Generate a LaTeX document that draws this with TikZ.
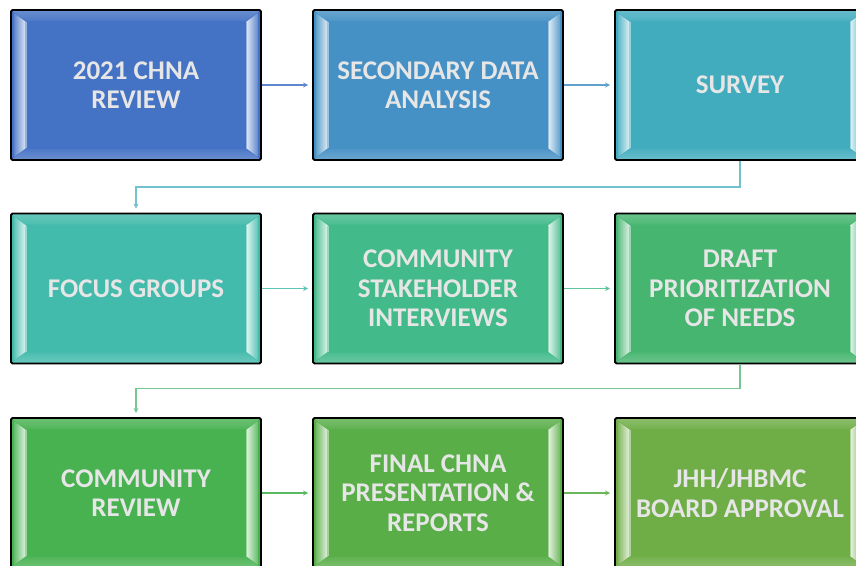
\documentclass[tikz,border=0pt]{standalone}
\usepackage{fontspec}
\newfontfamily\stagefont{Carlito}
\usetikzlibrary{arrows.meta,calc}

% stage colours, running from blue to green
\definecolor{c1}{HTML}{4472C4}
\definecolor{c2}{HTML}{4590C4}
\definecolor{c3}{HTML}{42ACBF}
\definecolor{c4}{HTML}{42BAAC}
\definecolor{c5}{HTML}{42BA8A}
\definecolor{c6}{HTML}{45B56F}
\definecolor{c7}{HTML}{48B251}
\definecolor{c8}{HTML}{59AE48}
\definecolor{c9}{HTML}{6FAD47}
\definecolor{labelgray}{HTML}{E6E6E6}

\tikzset{
  stage/.style={
    draw=black, line width=1.8pt, rounded corners=1.5pt, fill=#1,
    minimum width=250pt, minimum height=150pt, inner sep=0pt,
    align=center, text=labelgray,
    font=\stagefont\bfseries\fontsize{27}{29.5}\selectfont,
    path picture={
      \coordinate (pnw) at (path picture bounding box.north west);
      \coordinate (pne) at (path picture bounding box.north east);
      \coordinate (psw) at (path picture bounding box.south west);
      \coordinate (pse) at (path picture bounding box.south east);
      % top and bottom bevel faces, only faintly lighter
      \shade[sharp corners, top color=#1!80!white, bottom color=#1!95!white]
        (pnw) -- (pne) -- ($(pne)+(-15pt,-11pt)$)
        -- ($(pnw)+(15pt,-11pt)$) -- cycle;
      \shade[sharp corners, top color=#1!95!white, bottom color=#1!78!white]
        (psw) -- (pse) -- ($(pse)+(-15pt,11pt)$)
        -- ($(psw)+(15pt,11pt)$) -- cycle;
      % left and right bevel faces with a bright inner strip
      \shade[sharp corners, left color=#1!85!white, middle color=#1!30!white,
             right color=#1!15!white]
        ($(pnw)+(3pt,-3pt)$) -- ($(pnw)+(15pt,-12pt)$) -- ($(psw)+(15pt,12pt)$)
        -- ($(psw)+(3pt,3pt)$) -- cycle;
      \shade[sharp corners, right color=#1!85!white, middle color=#1!30!white,
             left color=#1!15!white]
        ($(pne)+(-3pt,-3pt)$) -- ($(pne)+(-15pt,-12pt)$) -- ($(pse)+(-15pt,12pt)$)
        -- ($(pse)+(-3pt,3pt)$) -- cycle;
      \fill[#1!55!white, sharp corners]
        ($(pnw)+(14pt,-12pt)$) rectangle ($(psw)+(15.5pt,12pt)$);
      \fill[#1!55!white, sharp corners]
        ($(pne)+(-14pt,-12pt)$) rectangle ($(pse)+(-15.5pt,12pt)$);
    }},
  flow/.style={draw=#1, line width=1.3pt,
    -{Stealth[length=5pt,width=5pt]}, shorten >=4pt},
}

\begin{document}
\begin{tikzpicture}[x=1pt,y=-1pt]
  \useasboundingbox (0,0) rectangle (856,565);
  \clip (0,0) rectangle (856,565);

  % first row
  \node[stage=c1] (b1) at (136,85) {2021 CHNA\\REVIEW};
  \node[stage=c2] (b2) at (438,85) {SECONDARY DATA\\ANALYSIS};
  \node[stage=c3] (b3) at (740,85) {SURVEY};

  % second row
  \node[stage=c4] (b4) at (136,288.5) {FOCUS GROUPS};
  \node[stage=c5] (b5) at (438,288.5) {COMMUNITY\\STAKEHOLDER\\INTERVIEWS};
  \node[stage=c6] (b6) at (740,288.5) {DRAFT\\PRIORITIZATION\\OF NEEDS};

  % third row
  \node[stage=c7] (b7) at (136,493) {COMMUNITY\\REVIEW};
  \node[stage=c8] (b8) at (438,493) {FINAL CHNA\\PRESENTATION \&\\REPORTS};
  \node[stage=c9] (b9) at (740,493) {JHH/JHBMC\\BOARD APPROVAL};

  % connectors
  \draw[flow=c1!85!white] (b1.east) -- (b2.west);
  \draw[flow=c2!85!white] (b2.east) -- (b3.west);
  \draw[flow=c3!75!white] (b3.south) -- ++(0,26) -| (b4.north);
  \draw[flow=c4!85!white] (b4.east) -- (b5.west);
  \draw[flow=c5!85!white] (b5.east) -- (b6.west);
  \draw[flow=c6!75!white] (b6.south) -- ++(0,24) -| (b7.north);
  \draw[flow=c7!90!white] (b7.east) -- (b8.west);
  \draw[flow=c8!90!white] (b8.east) -- (b9.west);
\end{tikzpicture}
\end{document}
